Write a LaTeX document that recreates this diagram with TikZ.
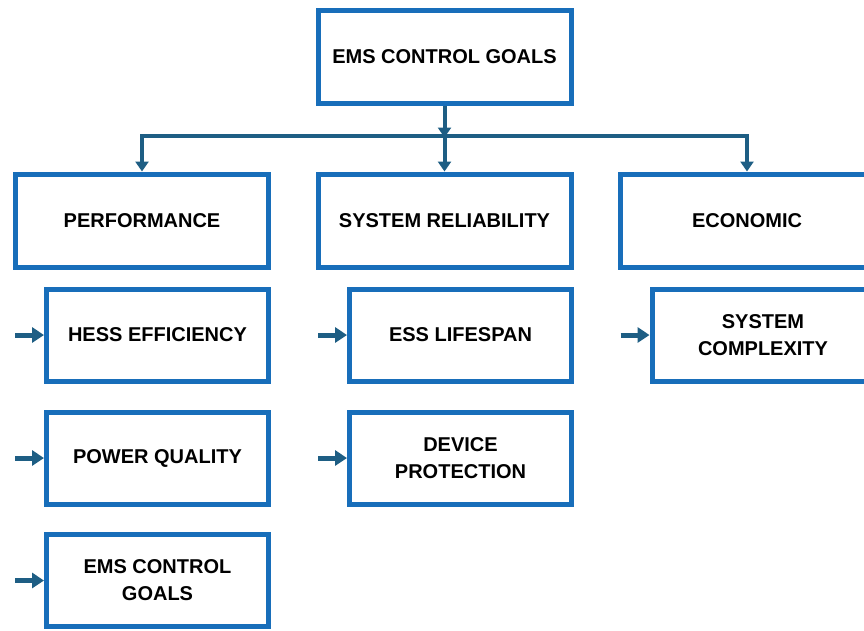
\documentclass[tikz,border=0pt]{standalone}
\usepackage{fontspec}
\setmainfont{Liberation Sans}
\usetikzlibrary{arrows.meta}
\definecolor{boxblue}{RGB}{24,110,186}
\definecolor{linkteal}{RGB}{30,94,132}
\begin{document}
\begin{tikzpicture}[x=1pt,y=-1pt,
  goal/.style={draw=boxblue, line width=5pt, fill=white, inner sep=0pt,
    minimum width=253pt, minimum height=93pt, align=center,
    font=\fontsize{20}{27}\selectfont\bfseries},
  subgoal/.style={goal, minimum width=222pt, minimum height=92pt},
  link/.style={draw=linkteal, line width=4pt},
  tip/.style={-{Triangle[length=10pt,width=13pt]}},
  feed/.style={draw=linkteal, line width=5pt, -{Triangle[length=12pt,width=15pt]}}]
\useasboundingbox (0,0) rectangle (864,630);
\clip (0,0) rectangle (864,630);
\fill[white] (0,0) rectangle (864,630);

% root and the three goal groups
\node[goal] (root) at (444.5,56.5) {EMS CONTROL GOALS};
\node[goal] (perf) at (142,220.5) {PERFORMANCE};
\node[goal] (rel)  at (444.5,220.5) {SYSTEM RELIABILITY};
\node[goal] (econ) at (747,220.5) {ECONOMIC};

% distribution bar
\coordinate (barL) at (142,135.5);
\coordinate (barM) at (444.5,135.5);
\coordinate (barR) at (747,135.5);
\draw[link,tip] (root.south) -- ([yshift=-2pt]barM);
\draw[link,{Triangle[length=10pt,width=13pt]}-{Triangle[length=10pt,width=13pt]}]
  (perf.north) -- (barL) -- (barR) -- (econ.north);
\draw[link,tip] (barM) -- (rel.north);

% sub-goals
\node[subgoal] (hess)  at (157.5,335) {HESS EFFICIENCY};
\node[subgoal] (pq)    at (157.5,458) {POWER QUALITY};
\node[subgoal] (ems)   at (157.5,580.5) {EMS CONTROL\\GOALS};
\node[subgoal] (life)  at (460.5,335) {ESS LIFESPAN};
\node[subgoal] (prot)  at (460.5,458) {DEVICE\\PROTECTION};
\node[subgoal] (cplx)  at (763,335) {SYSTEM\\COMPLEXITY};

% short feed arrows into the sub-goals
\foreach \n in {hess,pq,ems,life,prot,cplx}{
  \coordinate (\n-in) at ([xshift=-29pt]\n.west);
  \draw[feed] (\n-in) -- (\n.west);
}
\end{tikzpicture}
\end{document}
